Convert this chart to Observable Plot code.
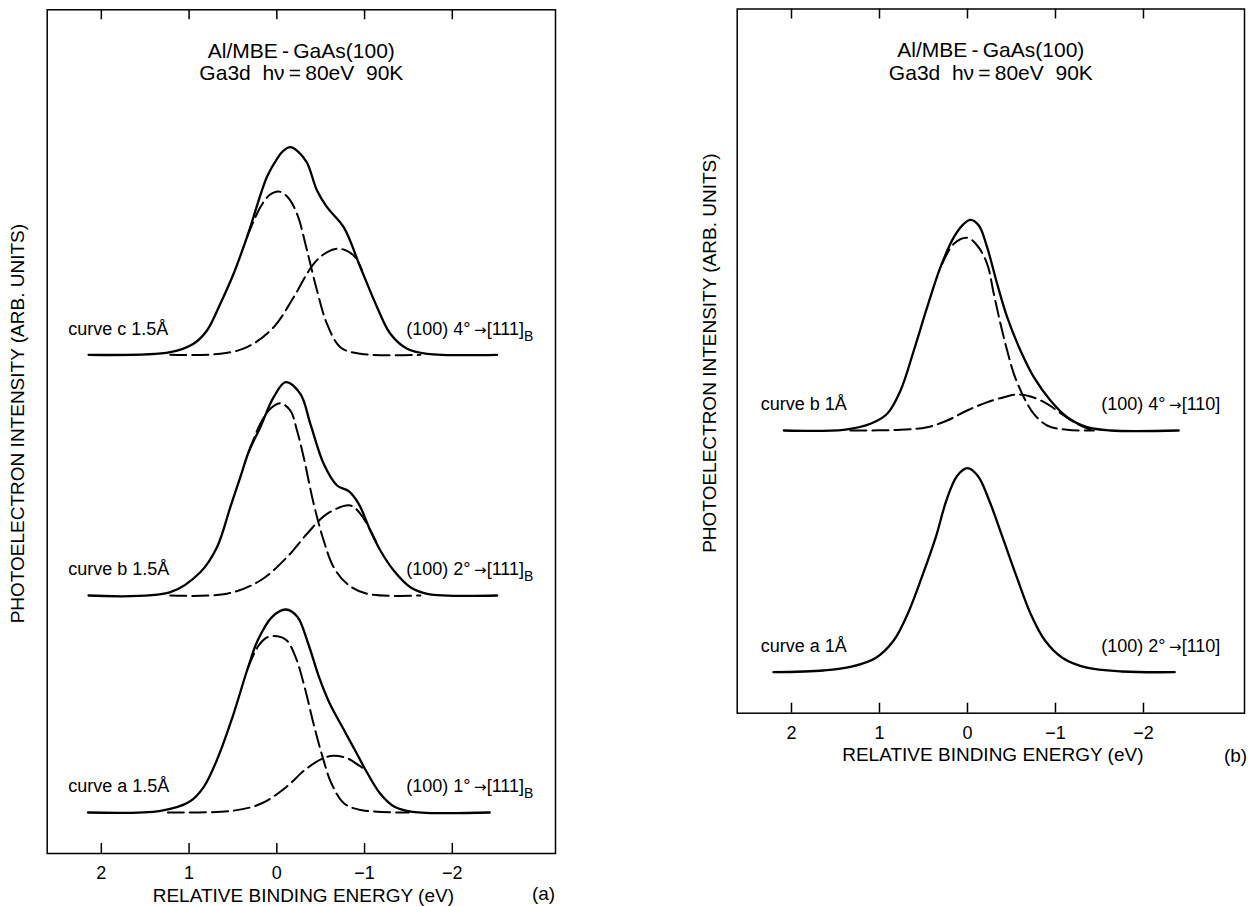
<!DOCTYPE html>
<html>
<head>
<meta charset="utf-8">
<script src="https://cdn.jsdelivr.net/npm/d3@7"></script>
<script src="https://cdn.jsdelivr.net/npm/@observablehq/plot@0.6"></script>
<style>
  html, body { margin: 0; padding: 0; background: #fff; }
  #wrap { position: relative; width: 1248px; height: 906px; overflow: hidden; background: #fff; }
  #pa { position: absolute; left: 0; top: 0; }
  #pb { position: absolute; left: 690px; top: 0; }
</style>
</head>
<body>
<div id="wrap"><div id="pa"></div><div id="pb"></div></div>
<script>
// ---------- shared text / ticks ----------
const tickValues = [2, 1, 0, -1, -2];
const titleLine1 = "Al/MBE\u2009-\u2009GaAs(100)";
const titleLine2 = "Ga3d\u00a0\u00a0h\u03bd\u2009=\u200980eV\u00a0\u00a090K";
const yTitle = "PHOTOELECTRON INTENSITY (ARB. UNITS)";
const xTitle = "RELATIVE BINDING ENERGY (eV)";

// ---------- panel (a): [binding energy eV, intensity above own baseline] ----------
const aLeftLabels = ["curve a 1.5\u00c5", "curve b 1.5\u00c5", "curve c 1.5\u00c5"];
const aRightLabels = ["(100) 1\u00b0\u2192[111]", "(100) 2\u00b0\u2192[111]", "(100) 4\u00b0\u2192[111]"];
const aOffsets = [41, 258, 498.7];

const aCurveA_total = [[2.152,0],[1.324,1.7],[0.996,10.7],[0.832,25.7],[0.668,55.7],[0.504,95.7],[0.332,144],[0.217,172.3],[0.053,195.7],[-0.103,203],[-0.234,195.7],[-0.357,169],[-0.480,135.7],[-0.603,109],[-0.767,82.3],[-0.931,55.7],[-1.013,42.3],[-1.177,19],[-1.341,5.7],[-1.546,0.7],[-2.427,0]];
const aCurveA_comp1 = [[0.332,144],[0.217,165.7],[0.115,175],[-0.008,176.3],[-0.111,172.3],[-0.213,155.7],[-0.316,125.7],[-0.418,89],[-0.521,55.7],[-0.623,29],[-0.767,9],[-0.972,2.3],[-1.505,0]];
const aCurveA_comp2 = [[1.242,0],[0.504,1.7],[0.176,9],[-0.111,25.7],[-0.316,42.3],[-0.521,54],[-0.644,56.7],[-0.808,54],[-0.931,47.3],[-1.013,42.3]];

const aCurveB_total = [[2.146,0],[1.214,3.3],[0.872,23.3],[0.682,48.3],[0.530,88.3],[0.416,118.3],[0.322,143.3],[0.188,168.3],[0.036,198.3],[-0.100,213.3],[-0.268,201.7],[-0.382,171.7],[-0.534,131.7],[-0.686,110],[-0.819,104.3],[-0.933,91.7],[-1.066,65],[-1.180,45],[-1.332,25],[-1.522,8.3],[-1.713,1.7],[-2.511,0]];
const aCurveB_comp1 = [[0.322,143.3],[0.188,171.7],[0.074,186.7],[-0.040,192.3],[-0.154,185],[-0.230,165],[-0.306,138.3],[-0.420,91.7],[-0.534,55],[-0.648,28.3],[-0.800,11.7],[-1.029,1.7],[-1.636,0]];
const aCurveB_comp2 = [[1.214,0],[0.568,1.7],[0.188,15],[-0.116,38.3],[-0.344,61.7],[-0.572,81.7],[-0.838,90],[-0.952,81.7],[-1.066,65],[-1.143,51.7]];

const aCurveC_total = [[2.146,0],[1.214,2.6],[0.949,11],[0.796,24.3],[0.644,51],[0.493,81],[0.340,117.6],[0.112,178],[-0.002,196],[-0.074,204],[-0.154,207.6],[-0.245,203],[-0.344,192],[-0.458,164.3],[-0.572,147.6],[-0.762,127.6],[-0.952,87.6],[-1.143,47.6],[-1.294,21],[-1.485,6],[-1.713,1],[-2.511,0]];
const aCurveC_comp1 = [[0.340,117.6],[0.188,147.6],[0.080,160],[-0.021,163.3],[-0.120,158],[-0.230,141],[-0.344,104.3],[-0.458,64.3],[-0.572,31],[-0.724,7.6],[-0.952,1],[-1.636,0]];
const aCurveC_comp2 = [[1.214,0],[0.644,1],[0.340,7.6],[0.036,27.6],[-0.192,57.6],[-0.420,91],[-0.580,103],[-0.724,106],[-0.876,99.3],[-0.972,84.3]];

// ---------- panel (b) ----------
const bLeftLabels = ["curve a 1\u00c5", "curve b 1\u00c5"];
const bRightLabels = ["(100) 2\u00b0\u2192[110]", "(100) 4\u00b0\u2192[110]"];
const bOffsets = [41, 282.7];

const bCurveA_total = [[2.205,0],[1.637,1.7],[1.318,5.5],[1.039,14.5],[0.839,31.7],[0.680,58.3],[0.519,95],[0.360,135],[0.240,171.7],[0.120,196],[0,204],[-0.120,196],[-0.247,171.7],[-0.398,135],[-0.560,95],[-0.718,58.3],[-0.881,31.7],[-1.077,14.5],[-1.357,4.5],[-1.756,0.7],[-2.355,0]];

const bCurveB_total = [[2.087,0],[1.405,0.7],[1.102,6.7],[0.913,16.7],[0.761,40],[0.610,80],[0.458,123.3],[0.307,163.3],[0.155,193.3],[0.042,206.7],[-0.034,210.7],[-0.129,205],[-0.223,183.3],[-0.337,146.7],[-0.451,113.3],[-0.602,80],[-0.754,53.3],[-0.943,30],[-1.133,13.3],[-1.360,3.3],[-1.625,0],[-2.401,0]];
const bCurveB_comp1 = [[0.288,166.7],[0.155,186.7],[0.003,192.7],[-0.110,185],[-0.223,166.7],[-0.299,136.7],[-0.375,106.7],[-0.451,80],[-0.527,56.7],[-0.640,33.3],[-0.754,16.7],[-0.905,5],[-1.133,0.7],[-1.435,0]];
const bCurveB_comp2 = [[1.330,0],[0.761,0.7],[0.458,3.3],[0.231,10],[0.003,20],[-0.223,28.3],[-0.413,33.3],[-0.565,36],[-0.716,34],[-0.905,26.7],[-1.095,15],[-1.247,6.7],[-1.398,0.7]];

// ---------- drawing ----------
const FONT = "'Liberation Sans', Arial, Helvetica, sans-serif";
const fmtTick = d => d < 0 ? "\u2212" + Math.abs(d) : String(d);

function rows(curves, offsets, prefix) {
  return curves.flatMap(([pts, ci], j) =>
    pts.map(([e, h]) => ({e, v: h + offsets[ci], id: prefix + j})));
}

function drawPanel(o) {
  const fh = o.height - o.mt - o.mb;
  const totalRows = rows(o.totals, o.offsets, "t");
  const compRows = rows(o.comps, o.offsets, "c");
  const svg = Plot.plot({
    width: o.width, height: o.height,
    marginTop: o.mt, marginRight: o.mr, marginBottom: o.mb, marginLeft: o.ml,
    x: {domain: o.xDomain, axis: null},
    y: {domain: [0, fh], axis: null},
    style: {fontFamily: FONT, fontSize: "18px", color: "black", background: "white", overflow: "visible"},
    marks: [
      Plot.frame({stroke: "black", strokeWidth: 1.5}),
      Plot.tickX(tickValues, {x: d => d, insetTop: fh - 10, strokeWidth: 1.5}),
      Plot.tickX(tickValues, {x: d => d, insetBottom: fh - 10, strokeWidth: 1.5}),
      Plot.axisX(tickValues, {anchor: "bottom", tickSize: 0, tickPadding: 13, fontSize: 18, label: null, tickFormat: fmtTick}),
      Plot.line(compRows, {x: "e", y: "v", z: "id", curve: "catmull-rom", stroke: "black", strokeWidth: 2, strokeDasharray: "16,6"}),
      Plot.line(totalRows, {x: "e", y: "v", z: "id", curve: "catmull-rom", stroke: "black", strokeWidth: 2.3}),
      Plot.text(o.leftLabels, {x: () => o.leftX, y: (d, i) => o.offsets[i] + 26, textAnchor: "start", lineAnchor: "middle", fontSize: 18}),
      Plot.text(o.rightLabels, {x: () => o.rightX, y: (d, i) => o.offsets[i] + 26, textAnchor: "start", lineAnchor: "middle", fontSize: 18}),
      Plot.text([titleLine1], {frameAnchor: "top", dy: o.t1, lineAnchor: "middle", textAnchor: "middle", fontSize: 21}),
      Plot.text([titleLine2], {frameAnchor: "top", dy: o.t2, lineAnchor: "middle", textAnchor: "middle", fontSize: 21}),
      Plot.text([yTitle], {frameAnchor: "left", rotate: -90, dx: o.yDx, dy: -8, textAnchor: "middle", lineAnchor: "middle", fontSize: 19}),
      Plot.text([xTitle], {frameAnchor: "bottom", dx: 2, dy: 42, textAnchor: "middle", lineAnchor: "middle", fontSize: 19}),
      Plot.text([o.tag], {frameAnchor: "bottom-right", dx: o.tagDx, dy: o.tagDy, textAnchor: "middle", lineAnchor: "middle", fontSize: 19})
    ]
  });
  // arrow glyph in a font that draws a long thin arrow, and subscript B on [111]
  d3.select(svg).selectAll("text")
    .filter(function () { return this.textContent.includes("\u2192"); })
    .each(function () {
      const s = this.textContent;
      const [pre, post] = s.split("\u2192");
      const t = d3.select(this);
      t.text(null);
      t.append("tspan").text(pre + "\u2009");
      t.append("tspan").attr("font-family", "'DejaVu Sans', sans-serif").attr("font-size", 15).text("\u2192");
      t.append("tspan").text(post);
      if (post.endsWith("[111]")) t.append("tspan").attr("dy", 6).attr("font-size", 14).text("B");
    });
  return svg;
}

document.getElementById("pa").appendChild(drawPanel({
  width: 600, height: 906, mt: 9.3, mr: 45, mb: 53, ml: 46.7,
  xDomain: [2.617, -3.176],
  offsets: aOffsets,
  totals: [[aCurveA_total, 0], [aCurveB_total, 1], [aCurveC_total, 2]],
  comps: [[aCurveA_comp1, 0], [aCurveA_comp2, 0], [aCurveB_comp1, 1], [aCurveB_comp2, 1], [aCurveC_comp1, 2], [aCurveC_comp2, 2]],
  leftLabels: aLeftLabels, rightLabels: aRightLabels,
  leftX: 2.377, rightX: -1.475,
  t1: 41, t2: 63, yDx: -29, tag: "(a)", tagDx: -12, tagDy: 40
}));

document.getElementById("pb").appendChild(drawPanel({
  width: 558, height: 790, mt: 8.5, mr: 4, mb: 77.3, ml: 46.7,
  xDomain: [2.617, -3.148],
  offsets: bOffsets,
  totals: [[bCurveA_total, 0], [bCurveB_total, 1]],
  comps: [[bCurveB_comp1, 1], [bCurveB_comp2, 1]],
  leftLabels: bLeftLabels, rightLabels: bRightLabels,
  leftX: 2.35, rightX: -1.52,
  t1: 41, t2: 64, yDx: -27, tag: "(b)", tagDx: -9, tagDy: 43
}));
</script>
</body>
</html>
